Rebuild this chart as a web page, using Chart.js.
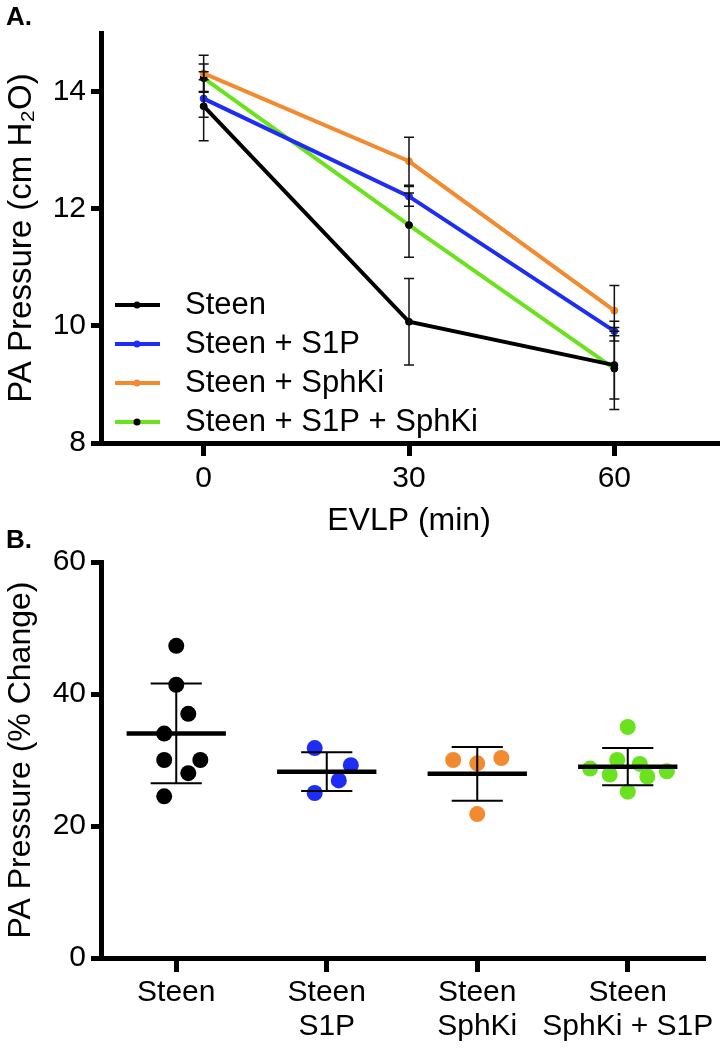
<!DOCTYPE html>
<html>
<head>
<meta charset="utf-8">
<script src="https://cdn.jsdelivr.net/npm/chart.js@4.4.1/dist/chart.umd.min.js"></script>
<style>
  html, body { margin: 0; padding: 0; background: #fff; }
  body { width: 722px; height: 1050px; position: relative; overflow: hidden;
         font-family: "Liberation Sans", Arial, sans-serif; }
  .panel { position: absolute; font-weight: bold; font-size: 26px; line-height: 30px; color: #000; }
  #chartA { position: absolute; left: 0; top: 0; }
  #chartB { position: absolute; left: 0; top: 520px; }
</style>
</head>
<body>
<canvas id="chartA" width="722" height="545"></canvas>
<canvas id="chartB" width="722" height="530"></canvas>
<div class="panel" style="left:6px; top:1px;">A.</div>
<div class="panel" style="left:6px; top:524px;">B.</div>
<script>
// ---- panel A: PA pressure over EVLP time (mean +/- error)
const timePoints  = [0, 30, 60];
const seriesNames = ["Steen", "Steen + S1P", "Steen + SphKi", "Steen + S1P + SphKi"];
const steenMean = [13.75, 10.07, 9.33];
const steenErr  = [0.59, 0.74, 0.58];
const s1pMean   = [13.88, 12.21, 9.91];
const s1pErr    = [0.32, 0.17, 0.17];
const sphkiMean = [14.31, 12.81, 10.26];
const sphkiErr  = [0.31, 0.41, 0.43];
const comboMean = [14.23, 11.72, 9.27];
const comboErr  = [0.24, 0.55, 0.70];
const yTicksA   = [8, 10, 12, 14];

// ---- panel B: % change, individual lungs
const groupLabels = [["Steen"], ["Steen", "S1P"], ["Steen", "SphKi"], ["Steen", "SphKi + S1P"]];
const steenPct = [47.3, 41.4, 37.0, 34.0, 30.0, 30.0, 28.0, 24.5];
const steenJit = [0, 0, 0.08, -0.08, -0.08, 0.16, 0.08, -0.08];
const s1pPct   = [31.8, 29.2, 26.9, 25.0];
const s1pJit   = [-0.08, 0.16, 0.08, -0.08];
const sphkiPct = [30.0, 29.5, 30.3, 21.8];
const sphkiJit = [-0.16, 0, 0.16, 0];
const comboPct = [35.0, 30.0, 29.4, 28.7, 28.3, 27.8, 27.5, 25.2];
const comboJit = [0, -0.07, 0.08, -0.25, 0.26, -0.12, 0.13, 0];
const yTicksB  = [0, 20, 40, 60];

const BLACK  = "#000000";
const BLUE   = "#1d2df5";
const ORANGE = "#f28a30";
const GREEN  = "#6ae31e";

Chart.defaults.font.family = "'Liberation Sans', Arial, sans-serif";
Chart.defaults.color = "#000";

const toXY = (vals) => vals.map((v, i) => ({ x: timePoints[i], y: v }));

function lineSet(label, mean, err, color, dot) {
  return {
    label, err,
    data: toXY(mean),
    borderColor: color,
    borderWidth: 4,
    pointRadius: 3.5,
    pointBackgroundColor: dot,
    pointBorderColor: dot,
    pointBorderWidth: 1,
    tension: 0,
    fill: false
  };
}

const errorBars = {
  id: "errorBars",
  afterDatasetsDraw(chart) {
    const { ctx, scales: { x, y } } = chart;
    ctx.save();
    ctx.strokeStyle = "#111";
    ctx.lineWidth = 1.5;
    chart.data.datasets.forEach(ds => {
      ds.data.forEach((p, i) => {
        const px = x.getPixelForValue(p.x);
        const top = y.getPixelForValue(p.y + ds.err[i]);
        const bot = y.getPixelForValue(p.y - ds.err[i]);
        ctx.beginPath();
        ctx.moveTo(px, top); ctx.lineTo(px, bot);
        ctx.moveTo(px - 5, top); ctx.lineTo(px + 5, top);
        ctx.moveTo(px - 5, bot); ctx.lineTo(px + 5, bot);
        ctx.stroke();
      });
    });
    ctx.restore();
  }
};

// legend sits inside the plot, lower left
const insideLegend = {
  id: "insideLegend",
  afterDraw(chart) {
    const { ctx } = chart;
    ctx.save();
    ctx.font = "31px 'Liberation Sans', Arial, sans-serif";
    ctx.textBaseline = "middle";
    chart.data.datasets.forEach((ds, i) => {
      const yy = 305 + i * 39;
      ctx.strokeStyle = ds.borderColor;
      ctx.lineWidth = 4;
      ctx.beginPath(); ctx.moveTo(115, yy); ctx.lineTo(160, yy); ctx.stroke();
      ctx.fillStyle = ds.pointBackgroundColor;
      ctx.beginPath(); ctx.arc(137, yy, 3.5, 0, Math.PI * 2); ctx.fill();
      ctx.fillStyle = "#000";
      ctx.fillText(ds.label, 185, yy);
    });
    ctx.restore();
  }
};

new Chart(document.getElementById("chartA"), {
  type: "line",
  data: {
    datasets: [
      lineSet(seriesNames[0], steenMean, steenErr, BLACK, BLACK),
      lineSet(seriesNames[1], s1pMean, s1pErr, BLUE, BLUE),
      lineSet(seriesNames[2], sphkiMean, sphkiErr, ORANGE, ORANGE),
      lineSet(seriesNames[3], comboMean, comboErr, GREEN, BLACK)
    ]
  },
  options: {
    responsive: false,
    animation: false,
    layout: { padding: { top: 33, right: 0, left: 0, bottom: 0 } },
    plugins: { legend: { display: false }, tooltip: { enabled: false } },
    scales: {
      x: {
        type: "linear", min: -15, max: 75,
        afterBuildTicks: s => { s.ticks = timePoints.map(v => ({ value: v })); },
        afterFit: s => { s.height = 102; },
        grid: { drawOnChartArea: false, color: "#000", lineWidth: 5, tickLength: 13 },
        border: { color: "#000", width: 5 },
        ticks: { font: { size: 30 }, padding: 5 },
        title: { display: true, text: "EVLP (min)", font: { size: 32 }, padding: { top: 0, bottom: 5 } }
      },
      y: {
        min: 8, max: 15,
        afterBuildTicks: s => { s.ticks = yTicksA.map(v => ({ value: v })); },
        afterFit: s => { s.width = 101; },
        grid: { drawOnChartArea: false, color: "#000", lineWidth: 5, tickLength: 10 },
        border: { color: "#000", width: 5 },
        ticks: { font: { size: 30 }, padding: 5 },
        title: { display: true, text: "PA Pressure (cm H₂O)", font: { size: 33 }, padding: { top: 2, bottom: 0 } }
      }
    }
  },
  plugins: [errorBars, insideLegend]
});

function dotSet(vals, jit, group, color) {
  return {
    vals,
    data: vals.map((v, i) => ({ x: group + jit[i], y: v })),
    pointRadius: 8,
    pointBackgroundColor: color,
    pointBorderWidth: 0,
    showLine: false
  };
}

// mean line with SD whiskers over each group
const meanSd = {
  id: "meanSd",
  afterDatasetsDraw(chart) {
    const { ctx, scales: { x, y } } = chart;
    ctx.save();
    ctx.strokeStyle = "#000";
    chart.data.datasets.forEach((ds, gi) => {
      const v = ds.vals;
      const m = v.reduce((a, b) => a + b, 0) / v.length;
      const sd = Math.sqrt(v.reduce((a, b) => a + (b - m) ** 2, 0) / (v.length - 1));
      const cx = gi + 1;
      const ym = y.getPixelForValue(m);
      const yt = y.getPixelForValue(m + sd);
      const yb = y.getPixelForValue(m - sd);
      ctx.lineWidth = 2;
      ctx.beginPath();
      ctx.moveTo(x.getPixelForValue(cx), yt); ctx.lineTo(x.getPixelForValue(cx), yb);
      ctx.moveTo(x.getPixelForValue(cx - 0.17), yt); ctx.lineTo(x.getPixelForValue(cx + 0.17), yt);
      ctx.moveTo(x.getPixelForValue(cx - 0.17), yb); ctx.lineTo(x.getPixelForValue(cx + 0.17), yb);
      ctx.stroke();
      ctx.lineWidth = 4.5;
      ctx.beginPath();
      ctx.moveTo(x.getPixelForValue(cx - 0.33), ym); ctx.lineTo(x.getPixelForValue(cx + 0.33), ym);
      ctx.stroke();
    });
    ctx.restore();
  }
};

new Chart(document.getElementById("chartB"), {
  type: "scatter",
  data: {
    datasets: [
      dotSet(steenPct, steenJit, 1, BLACK),
      dotSet(s1pPct, s1pJit, 2, BLUE),
      dotSet(sphkiPct, sphkiJit, 3, ORANGE),
      dotSet(comboPct, comboJit, 4, GREEN)
    ]
  },
  options: {
    responsive: false,
    animation: false,
    layout: { padding: { top: 42, right: 19, left: 0, bottom: 0 } },
    plugins: { legend: { display: false }, tooltip: { enabled: false } },
    scales: {
      x: {
        type: "linear", min: 0.5, max: 4.5,
        afterBuildTicks: s => { s.ticks = groupLabels.map((l, i) => ({ value: i + 1 })); },
        afterFit: s => { s.height = 92; },
        grid: { drawOnChartArea: false, color: "#000", lineWidth: 5, tickLength: 14 },
        border: { color: "#000", width: 5 },
        ticks: { font: { size: 30, lineHeight: 1.15 }, padding: 3,
                 callback: v => groupLabels[Math.round(v) - 1] }
      },
      y: {
        min: 0, max: 60,
        afterBuildTicks: s => { s.ticks = yTicksB.map(v => ({ value: v })); },
        afterFit: s => { s.width = 101; },
        grid: { drawOnChartArea: false, color: "#000", lineWidth: 5, tickLength: 10 },
        border: { color: "#000", width: 5 },
        ticks: { font: { size: 30 }, padding: 5 },
        title: { display: true, text: "PA Pressure (% Change)", font: { size: 32 }, padding: { top: 2, bottom: 0 } }
      }
    }
  },
  plugins: [meanSd]
});
</script>
</body>
</html>
